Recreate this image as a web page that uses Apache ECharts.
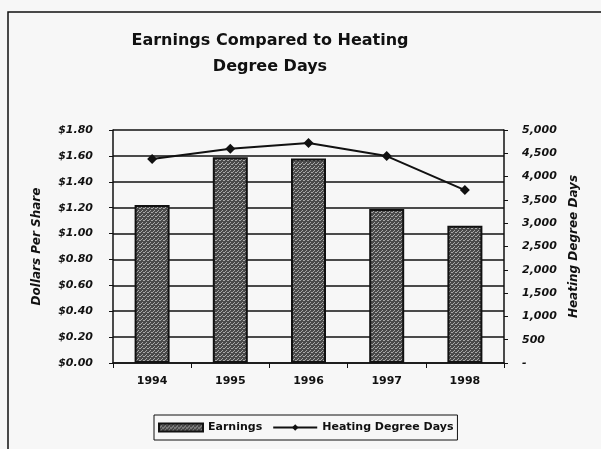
<!DOCTYPE html>
<html>
<head>
<meta charset="utf-8">
<script src="https://cdn.jsdelivr.net/npm/echarts@6/dist/echarts.min.js"></script>
<style>
  html, body { margin: 0; padding: 0; background: #f7f7f7; }
  #chart { width: 601px; height: 449px; }
</style>
</head>
<body>
<div id="chart"></div>
<script>
// Chart data
var years = ["1994", "1995", "1996", "1997", "1998"];
var earnings = [1.22, 1.59, 1.58, 1.19, 1.06];
var degreeDays = [4380, 4600, 4720, 4440, 3710];

var chart = echarts.init(document.getElementById("chart"));

// dithered grey fill for the bars
var pat = document.createElement("canvas");
pat.width = 4;
pat.height = 4;
var pc = pat.getContext("2d");
pc.fillStyle = "#4a4a4a";
pc.fillRect(0, 0, 4, 4);
pc.fillStyle = "#a8a8a8";
pc.fillRect(0, 0, 1, 1);
pc.fillRect(2, 2, 1, 1);
pc.fillRect(3, 0, 1, 1);
pc.fillRect(1, 3, 1, 1);

var font = "'DejaVu Sans', Arial, sans-serif";

chart.setOption({
  backgroundColor: "#f7f7f7",
  textStyle: { fontFamily: font },
  animation: false,

  title: {
    text: "Earnings Compared to Heating\nDegree Days",
    left: 265,
    top: 23,
    textAlign: "center",
    textStyle: {
      fontSize: 16,
      fontWeight: "bold",
      color: "#111",
      lineHeight: 26,
      fontFamily: font
    }
  },

  // outer frame
  graphic: [
    {
      type: "rect",
      shape: { x: 8, y: 12, width: 620, height: 460 },
      style: { fill: "none", stroke: "#111", lineWidth: 1.5 },
      silent: true
    }
  ],

  legend: {
    left: 154,
    top: 415,
    itemGap: 10,
    padding: [7, 4],
    borderColor: "#111",
    borderWidth: 1,
    itemWidth: 44,
    itemHeight: 8,
    textStyle: { fontSize: 11, fontWeight: "bold", color: "#111", fontFamily: font },
    data: [
      { name: "Earnings", icon: "rect" },
      { name: "Heating Degree Days" }
    ]
  },

  grid: { left: 113, right: 97, top: 130, bottom: 86 },

  xAxis: {
    type: "category",
    data: years,
    axisLine: { lineStyle: { color: "#111", width: 1.5 } },
    axisTick: { show: true, length: 5, lineStyle: { color: "#111" } },
    axisLabel: { fontSize: 11, fontWeight: "bold", color: "#111", margin: 13, fontFamily: font }
  },

  yAxis: [
    {
      type: "value",
      min: 0,
      max: 1.8,
      interval: 0.2,
      name: "Dollars Per Share",
      nameLocation: "middle",
      nameGap: 70,
      nameTextStyle: { fontSize: 12, fontWeight: "bold", fontStyle: "italic", color: "#111", fontFamily: font },
      axisLine: { show: true, lineStyle: { color: "#111", width: 1.5 } },
      axisTick: { show: true, length: 4, lineStyle: { color: "#111" } },
      splitLine: { lineStyle: { color: "#111", width: 1.5 } },
      axisLabel: {
        fontSize: 11,
        fontWeight: "bold",
        fontStyle: "italic",
        color: "#111",
        margin: 20,
        fontFamily: font,
        formatter: function (v) { return "$" + v.toFixed(2); }
      }
    },
    {
      type: "value",
      min: 0,
      max: 5000,
      interval: 500,
      position: "right",
      name: "Heating Degree Days",
      nameLocation: "middle",
      nameGap: 60,
      nameRotate: 90,
      nameTextStyle: { fontSize: 12, fontWeight: "bold", fontStyle: "italic", color: "#111", fontFamily: font },
      axisLine: { show: true, lineStyle: { color: "#111", width: 1.5 } },
      axisTick: { show: true, length: 4, lineStyle: { color: "#111" } },
      splitLine: { show: false },
      axisLabel: {
        fontSize: 11,
        fontWeight: "bold",
        fontStyle: "italic",
        color: "#111",
        margin: 18,
        fontFamily: font,
        formatter: function (v) { return v === 0 ? "-" : v.toLocaleString("en-US"); }
      }
    }
  ],

  series: [
    {
      name: "Earnings",
      type: "bar",
      data: earnings,
      barWidth: 35,
      itemStyle: {
        color: { image: pat, repeat: "repeat" },
        borderColor: "#111",
        borderWidth: 2
      }
    },
    {
      name: "Heating Degree Days",
      type: "line",
      yAxisIndex: 1,
      data: degreeDays,
      symbol: "diamond",
      symbolSize: 10,
      lineStyle: { color: "#111", width: 2 },
      itemStyle: { color: "#111" }
    }
  ]
});
</script>
</body>
</html>
